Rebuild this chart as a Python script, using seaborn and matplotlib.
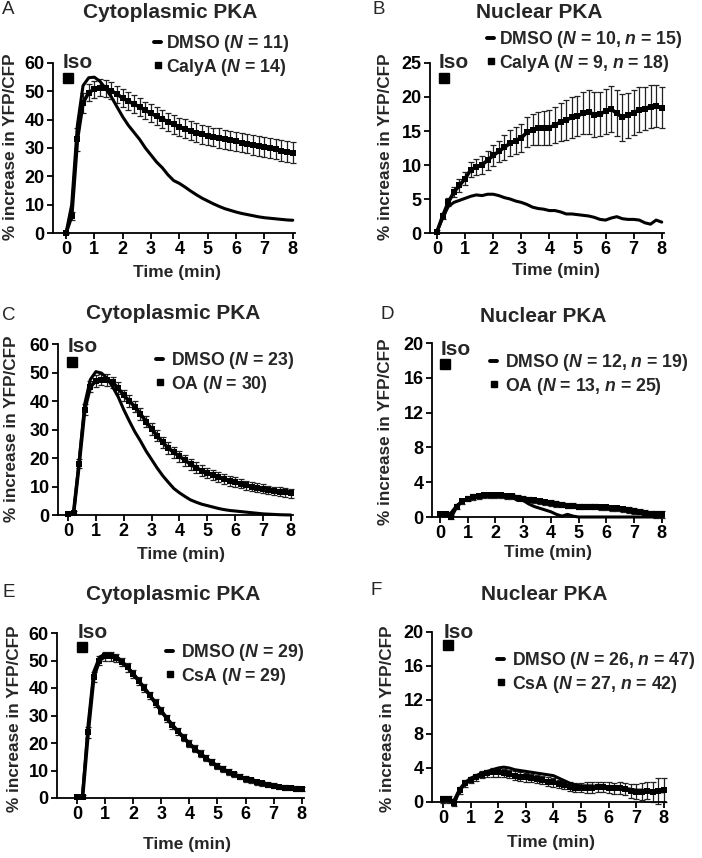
import numpy as np
import pandas as pd
import matplotlib
matplotlib.use("Agg")
import matplotlib.pyplot as plt
from matplotlib.lines import Line2D
import seaborn as sns

# ---------------- data ----------------
TIME = [0.0, 0.2, 0.4, 0.6, 0.8, 1.0, 1.2, 1.4, 1.6, 1.8, 2.0, 2.2, 2.4, 2.6, 2.8,
        3.0, 3.2, 3.4, 3.6, 3.8, 4.0, 4.2, 4.4, 4.6, 4.8, 5.0, 5.2, 5.4, 5.6, 5.8,
        6.0, 6.2, 6.4, 6.6, 6.8, 7.0, 7.2, 7.4, 7.6, 7.8, 8.0]
X_TICKS = [0, 1, 2, 3, 4, 5, 6, 7, 8]

# Panel A - cytoplasmic PKA, DMSO vs CalyA
A_DMSO = [0, 10, 38, 52, 54.8, 55, 53.5, 51, 48, 44.5, 41, 38, 35.5, 33, 30,
          27.5, 25, 23, 20.5, 18.5, 17.5, 16.2, 14.8, 13.5, 12.3, 11.3, 10.3, 9.4, 8.6, 8.0,
          7.4, 6.9, 6.5, 6.1, 5.7, 5.4, 5.2, 5.0, 4.8, 4.6, 4.5]
A_CALYA = [0, 6, 33, 46, 49.5, 50.8, 51.2, 51, 50.2, 49, 47.6, 46.5, 45.5, 44.5, 43.3,
           42.2, 41.2, 40.2, 39.3, 38.3, 37.5, 36.8, 36.1, 35.4, 34.8, 34.3, 33.9, 33.5, 33.1, 32.7,
           32.3, 31.9, 31.5, 31.1, 30.7, 30.3, 29.9, 29.5, 29.1, 28.7, 28.4]
A_CALYA_ERR = [0.3, 1.5, 4.0, 3.5, 3.0, 3.0, 3.0, 3.0, 3.0, 3.0, 3.1, 3.1, 3.1, 3.1, 3.1,
               3.2, 3.2, 3.2, 3.2, 3.2, 3.2, 3.3, 3.3, 3.3, 3.3, 3.3, 3.3, 3.4, 3.4, 3.4,
               3.4, 3.4, 3.4, 3.5, 3.5, 3.5, 3.5, 3.5, 3.6, 3.6, 3.6]

# Panel B - nuclear PKA, DMSO vs CalyA
B_DMSO = [0.2, 2.2, 3.9, 4.5, 4.8, 5.1, 5.4, 5.6, 5.5, 5.7, 5.7, 5.5, 5.2, 5.0, 4.7,
          4.5, 4.2, 3.8, 3.6, 3.5, 3.3, 3.3, 3.1, 2.8, 2.8, 2.7, 2.6, 2.5, 2.3, 2.0,
          1.9, 2.2, 2.4, 2.1, 2.0, 2.0, 1.9, 1.5, 1.3, 1.9, 1.6]
B_CALYA = [0.2, 2.5, 4.5, 6.0, 7.0, 8.0, 9.3, 9.7, 10.0, 10.7, 11.4, 12.0, 12.6, 13.2, 13.6,
           14.0, 14.8, 15.2, 15.4, 15.5, 15.5, 15.9, 16.3, 16.6, 17.0, 17.2, 17.6, 17.8, 17.4, 17.5,
           17.9, 18.2, 17.6, 17.0, 17.3, 17.7, 18.1, 18.3, 18.6, 18.7, 18.4]
B_CALYA_ERR = [0.2, 0.4, 0.6, 0.7, 0.9, 1.0, 1.1, 1.2, 1.3, 1.4, 1.5, 1.6, 1.8, 1.9, 2.0,
               2.1, 2.2, 2.3, 2.4, 2.5, 2.6, 2.7, 2.8, 2.9, 3.0, 3.0, 3.1, 3.2, 3.3, 3.3,
               3.3, 3.4, 3.4, 3.4, 3.3, 3.3, 3.3, 3.2, 3.2, 3.1, 3.0]

# Panel C - cytoplasmic PKA, DMSO vs OA
C_DMSO = [0, 0.5, 19, 39, 47.5, 50.3, 49.8, 48, 45, 41.5, 37, 33, 29.2, 26, 22.5,
          19.5, 16.5, 13.8, 11.5, 9.3, 7.8, 6.5, 5.3, 4.5, 3.8, 3.3, 2.8, 2.3, 1.9, 1.6,
          1.4, 1.2, 1.0, 0.8, 0.6, 0.4, 0.3, 0.2, 0.1, 0.05, 0]
C_OA = [0.3, 0.8, 18, 37, 45, 47, 47.5, 47.4, 46.5, 44.5, 42, 40, 38, 35.5, 32.8,
        30.2, 27.8, 25.5, 23.5, 22, 20.6, 19.2, 17.8, 16.6, 15.6, 14.8, 14.0, 13.3, 12.6, 12.0,
        11.5, 11.0, 10.5, 10.0, 9.6, 9.2, 8.8, 8.5, 8.2, 7.9, 7.6]
C_OA_ERR = [0.3, 0.5, 1.5, 2, 2, 2, 2, 2, 2, 2, 2, 2, 2, 2, 2,
            2, 2, 2, 2, 2, 1.9, 1.9, 1.9, 1.9, 1.8, 1.8, 1.8, 1.8, 1.7, 1.7,
            1.7, 1.7, 1.6, 1.6, 1.6, 1.6, 1.5, 1.5, 1.5, 1.5, 1.5]

# Panel D - nuclear PKA, DMSO vs OA
D_DMSO = [0.2, 0.1, 0.5, 1.3, 1.8, 2.1, 2.3, 2.4, 2.5, 2.5, 2.5, 2.5, 2.4, 2.3, 1.9,
          1.9, 1.5, 1.2, 1.0, 0.8, 0.6, 0.3, 0.1, 0.3, 0.1, 0, 0, 0, 0, 0,
          0, 0, 0, 0, 0, 0, 0, 0, 0, 0, 0]
D_OA = [0.3, 0.3, 0.0, 1.2, 1.8, 2.1, 2.3, 2.4, 2.5, 2.5, 2.5, 2.5, 2.4, 2.4, 2.2,
        2.1, 2.0, 1.9, 1.8, 1.7, 1.6, 1.5, 1.4, 1.3, 1.3, 1.2, 1.2, 1.2, 1.2, 1.1,
        1.1, 1.0, 1.0, 0.9, 0.8, 0.7, 0.6, 0.5, 0.4, 0.3, 0.3]
D_OA_ERR = [0.2, 0.2, 0.2, 0.3, 0.3, 0.3, 0.3, 0.3, 0.3, 0.3, 0.3, 0.3, 0.3, 0.3, 0.3,
            0.3, 0.3, 0.3, 0.3, 0.3, 0.3, 0.3, 0.3, 0.3, 0.3, 0.3, 0.3, 0.3, 0.3, 0.3,
            0.3, 0.3, 0.3, 0.3, 0.3, 0.3, 0.3, 0.3, 0.3, 0.4, 0.4]

# Panel E - cytoplasmic PKA, DMSO vs CsA
E_DMSO = [0, 1, 27, 46, 51.2, 52.4, 52.4, 51.5, 49.8, 47.5, 45.3, 42.5, 40, 37.2, 34.3,
          31.5, 28.8, 26.3, 24, 21.8, 19.6, 17.7, 15.9, 14.3, 12.8, 11.5, 10.3, 9.3, 8.4, 7.6,
          6.9, 6.2, 5.7, 5.2, 4.8, 4.4, 4.0, 3.7, 3.5, 3.3, 3.1]
E_CSA = [0.3, 0.5, 24, 44, 50, 51.5, 51.6, 50.9, 49.5, 47.5, 45.2, 42.6, 40, 37.3, 34.5,
         31.7, 29, 26.5, 24.2, 22, 19.8, 17.9, 16.1, 14.5, 13, 11.7, 10.5, 9.5, 8.6, 7.8,
         7.0, 6.4, 5.8, 5.3, 4.9, 4.5, 4.1, 3.8, 3.6, 3.4, 3.2]
E_CSA_ERR = [0.2, 0.5, 2.0, 1.8, 1.6, 1.6, 1.6, 1.5, 1.5, 1.5, 1.5, 1.4, 1.4, 1.4, 1.4,
             1.3, 1.3, 1.3, 1.3, 1.2, 1.2, 1.2, 1.2, 1.1, 1.1, 1.1, 1.1, 1.0, 1.0, 1.0,
             1.0, 0.9, 0.9, 0.9, 0.9, 0.9, 0.8, 0.8, 0.8, 0.8, 0.8]

# Panel F - nuclear PKA, DMSO vs CsA
F_DMSO = [0.3, 0.2, 0.2, 1.5, 2.3, 2.8, 3.1, 3.4, 3.6, 3.8, 4.0, 4.1, 4.0, 3.8, 3.7,
          3.6, 3.5, 3.4, 3.3, 3.2, 3.1, 2.8, 2.5, 2.2, 2.0, 1.9, 1.9, 1.9, 1.8, 1.8,
          1.8, 1.7, 1.7, 1.6, 1.5, 1.4, 1.4, 1.3, 1.3, 1.2, 1.2]
F_CSA = [0.3, 0.3, -0.1, 1.4, 2.2, 2.6, 2.9, 3.2, 3.4, 3.5, 3.5, 3.4, 3.3, 3.1, 3.0,
         2.9, 2.8, 2.7, 2.6, 2.4, 2.3, 2.1, 2.0, 1.8, 1.7, 1.7, 1.7, 1.7, 1.8, 1.8,
         1.7, 1.6, 1.6, 1.5, 1.3, 1.2, 1.2, 1.3, 1.2, 1.3, 1.4]
F_CSA_ERR = [0.4, 0.4, 0.4, 0.4, 0.4, 0.4, 0.4, 0.4, 0.4, 0.5, 0.5, 0.5, 0.5, 0.5, 0.5,
             0.5, 0.5, 0.5, 0.5, 0.5, 0.5, 0.5, 0.5, 0.5, 0.5, 0.5, 0.6, 0.6, 0.6, 0.6,
             0.6, 0.6, 0.7, 0.7, 0.8, 0.9, 1.0, 1.0, 1.2, 1.5, 1.4]

LETTERS = ["A", "B", "C", "D", "E", "F"]
TITLES = ["Cytoplasmic PKA", "Nuclear PKA", "Cytoplasmic PKA",
          "Nuclear PKA", "Cytoplasmic PKA", "Nuclear PKA"]
LEGEND_LABELS = [
    ("DMSO ($N$ = 11)", "CalyA ($N$ = 14)"),
    ("DMSO ($N$ = 10, $n$ = 15)", "CalyA ($N$ = 9, $n$ = 18)"),
    ("DMSO ($N$ = 23)", "OA ($N$ = 30)"),
    ("DMSO ($N$ = 12, $n$ = 19)", "OA ($N$ = 13, $n$ = 25)"),
    ("DMSO ($N$ = 29)", "CsA ($N$ = 29)"),
    ("DMSO ($N$ = 26, $n$ = 47)", "CsA ($N$ = 27, $n$ = 42)"),
]
SERIES = [
    (A_DMSO, A_CALYA, A_CALYA_ERR),
    (B_DMSO, B_CALYA, B_CALYA_ERR),
    (C_DMSO, C_OA, C_OA_ERR),
    (D_DMSO, D_OA, D_OA_ERR),
    (E_DMSO, E_CSA, E_CSA_ERR),
    (F_DMSO, F_CSA, F_CSA_ERR),
]
Y_TICKS = [
    [0, 10, 20, 30, 40, 50, 60],
    [0, 5, 10, 15, 20, 25],
    [0, 10, 20, 30, 40, 50, 60],
    [0, 4, 8, 12, 16, 20],
    [0, 10, 20, 30, 40, 50, 60],
    [0, 4, 8, 12, 16, 20],
]

# ---------------- style ----------------
sns.set_theme(style="ticks")
plt.rcParams["font.family"] = ["Liberation Sans", "DejaVu Sans"]
plt.rcParams["font.weight"] = "bold"
plt.rcParams["axes.labelweight"] = "bold"
plt.rcParams["mathtext.fontset"] = "custom"
plt.rcParams["mathtext.it"] = "Liberation Sans:italic:bold"
plt.rcParams["mathtext.rm"] = "Liberation Sans:bold"
plt.rcParams["mathtext.bf"] = "Liberation Sans:bold"

W, H = 702, 858
fig = plt.figure(figsize=(W / 100, H / 100), dpi=100)


def fx(px):
    return px / W


def fy(py):
    return 1 - py / H


# layout in pixels: (left, right, top, bottom), xmin
LAYOUT = [
    dict(box=(53, 295, 63, 233), xmin=-0.46, letter=(2, 1), title=(170, 12),
         leg=(154, 33), pad=0.3, iso=(63, 53), sq=(67.5, 77.5), xl=(177, 273), yl=(11, 147)),
    dict(box=(430, 664, 63, 233), xmin=-0.25, letter=(373, 1), title=(539, 12),
         leg=(487, 29), pad=0.3, iso=(439, 53), sq=(443.5, 77.5), xl=(556, 271), yl=(386, 147)),
    dict(box=(58, 293, 344, 515), xmin=-0.36, letter=(2, 307), title=(173, 314),
         leg=(156, 350), pad=0.45, iso=(68, 337), sq=(71.5, 362), xl=(181, 554), yl=(12, 429)),
    dict(box=(432, 664, 343, 517), xmin=-0.29, letter=(380, 306), title=(543, 317),
         leg=(490, 352), pad=0.45, iso=(441, 340), sq=(445, 364), xl=(548, 552), yl=(386, 432)),
    dict(box=(57, 304, 633, 798), xmin=-0.71, letter=(2, 584), title=(173, 594),
         leg=(166, 642), pad=0.45, iso=(78, 623), sq=(81.5, 647), xl=(187, 845), yl=(15, 719)),
    dict(box=(432, 666, 632, 802), xmin=-0.40, letter=(370, 582), title=(544, 594),
         leg=(497, 650), pad=0.45, iso=(444, 623), sq=(447.5, 645), xl=(551, 842), yl=(388, 719)),
]

for i, lay in enumerate(LAYOUT):
    l, r, t, b = lay["box"]
    ax = fig.add_axes([fx(l), fy(b), (r - l) / W, (b - t) / H])
    dmso, drug, err = SERIES[i]
    df = pd.DataFrame({"time": TIME, "dmso": dmso, "drug": drug, "err": err})

    ax.errorbar(df["time"], df["drug"], yerr=df["err"], fmt="none", ecolor="#222222",
                elinewidth=0.9, capsize=2.4, capthick=0.9, zorder=2, clip_on=False)
    sns.lineplot(data=df, x="time", y="drug", ax=ax, color="black", lw=2.6,
                 marker="s", markersize=4.0, markeredgewidth=0, zorder=3, clip_on=False)
    sns.lineplot(data=df, x="time", y="dmso", ax=ax, color="black", lw=2.2,
                 zorder=4, clip_on=False)

    yt = Y_TICKS[i]
    ax.set_xlim(lay["xmin"], 8.08)
    ax.set_ylim(yt[0], yt[-1])
    ax.set_xticks(X_TICKS)
    ax.set_yticks(yt)
    sns.despine(ax=ax)
    for s in ("left", "bottom"):
        ax.spines[s].set_linewidth(1.3)
        ax.spines[s].set_color("black")
    ax.tick_params(axis="both", direction="out", length=4, width=1.3, colors="black",
                   labelsize=13, pad=2)
    for lab in ax.get_xticklabels() + ax.get_yticklabels():
        lab.set_fontweight("bold")

    ax.set_xlabel("Time (min)", fontsize=12.5, fontweight="bold")
    ax.set_ylabel("% increase in YFP/CFP", fontsize=12.3, fontweight="bold")
    ax.xaxis.set_label_coords(fx(lay["xl"][0]), fy(lay["xl"][1]), transform=fig.transFigure)
    ax.yaxis.set_label_coords(fx(lay["yl"][0]), fy(lay["yl"][1]), transform=fig.transFigure)
    ax.xaxis.label.set_va("center")
    ax.yaxis.label.set_va("center")

    fig.text(fx(lay["letter"][0]), fy(lay["letter"][1]), LETTERS[i], fontsize=13.5,
             fontweight="normal", ha="left", va="top")
    fig.text(fx(lay["title"][0]), fy(lay["title"][1]), TITLES[i], fontsize=15,
             fontweight="bold", ha="center", va="center")
    fig.text(fx(lay["iso"][0]), fy(lay["iso"][1]), "Iso", fontsize=15,
             fontweight="bold", ha="left", va="top")
    ax.plot([fx(lay["sq"][0])], [fy(lay["sq"][1])], marker="s", ms=6.5, color="black",
            transform=fig.transFigure, clip_on=False)

    handles = [Line2D([0], [0], color="black", lw=2.8),
               Line2D([0], [0], color="black", marker="s", ls="none", ms=5.0)]
    ax.legend(handles, list(LEGEND_LABELS[i]), loc="upper left",
              bbox_to_anchor=(fx(lay["leg"][0]), fy(lay["leg"][1])),
              bbox_transform=fig.transFigure, frameon=False, borderpad=0,
              handlelength=0.4, handletextpad=lay["pad"], labelspacing=0.15,
              borderaxespad=0, prop={"size": 12.7, "weight": "bold"})

fig.savefig("out.png", dpi=100)
